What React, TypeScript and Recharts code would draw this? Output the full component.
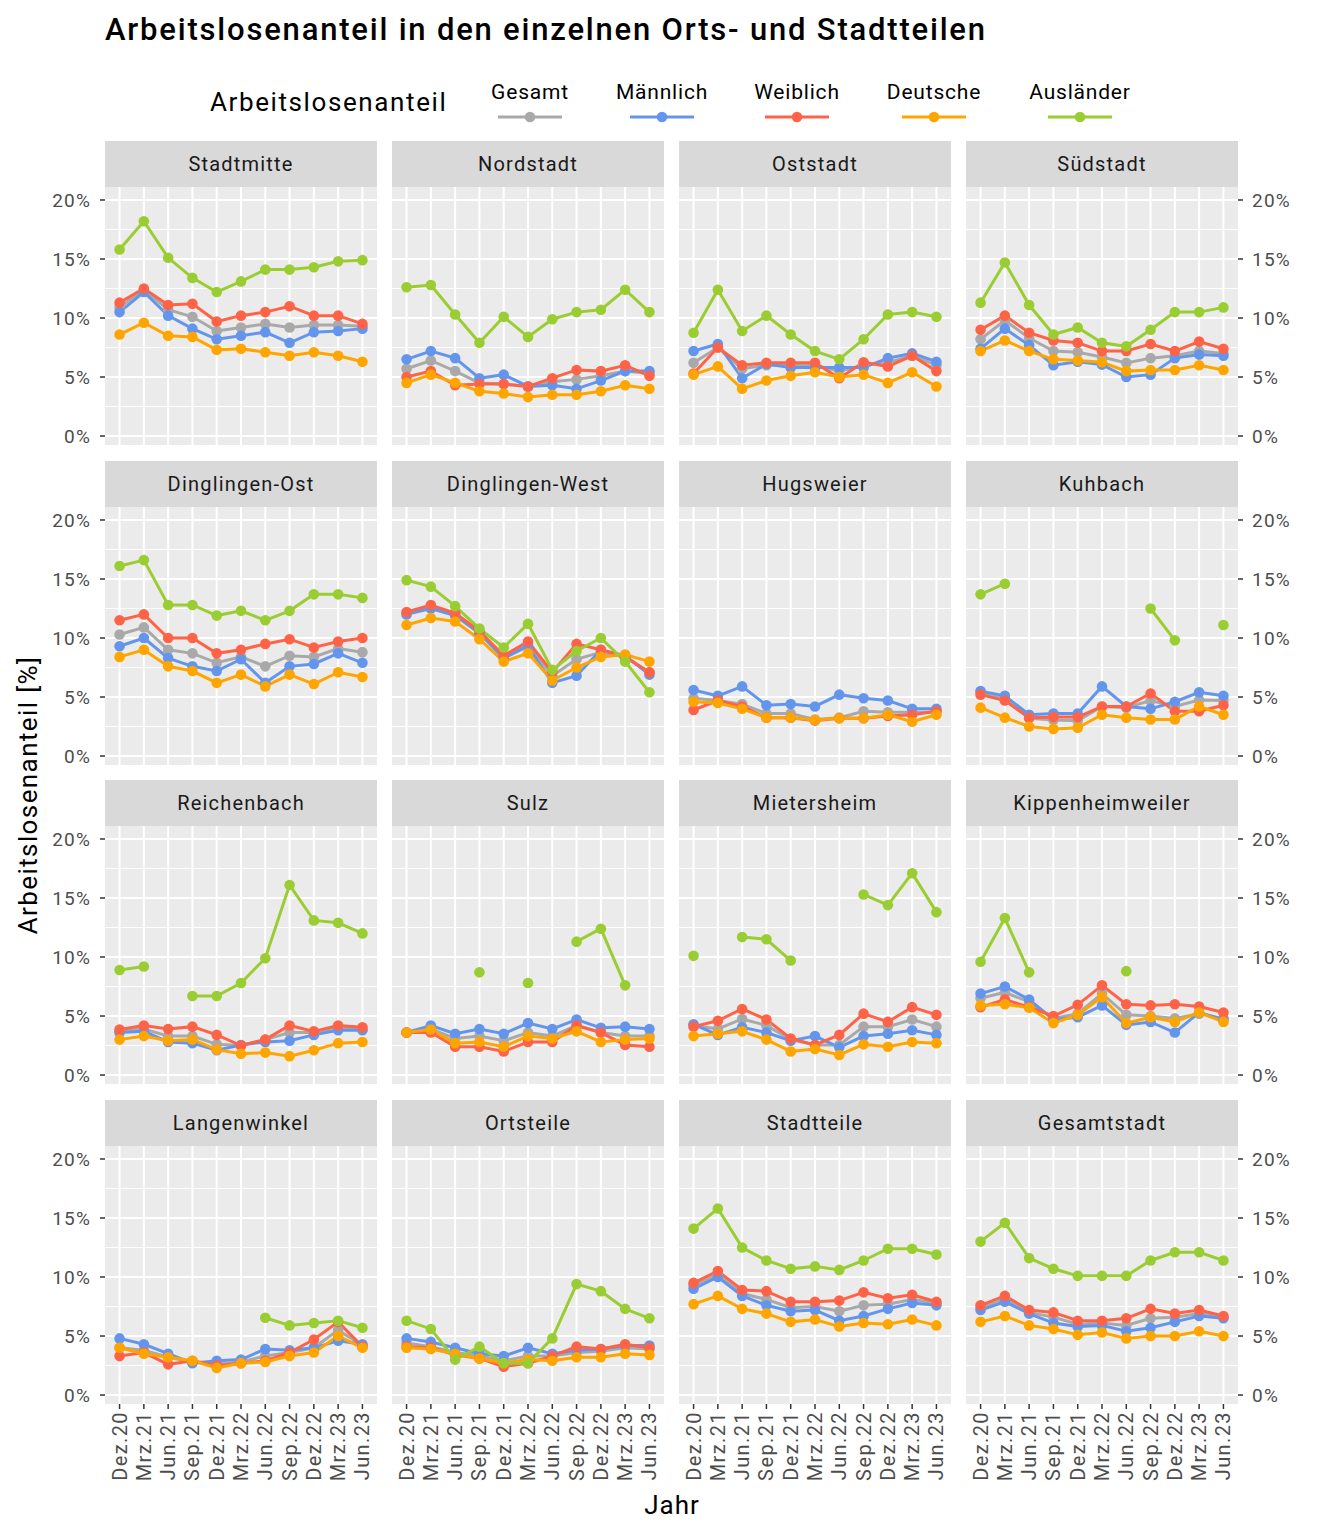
import { LineChart, Line, XAxis, YAxis, CartesianGrid } from "recharts";

const categories = ["Dez.20", "Mrz.21", "Jun.21", "Sep.21", "Dez.21", "Mrz.22", "Jun.22", "Sep.22", "Dez.22", "Mrz.23", "Jun.23"];

const panels = [
  "Stadtmitte", "Nordstadt", "Oststadt", "Südstadt",
  "Dinglingen-Ost", "Dinglingen-West", "Hugsweier", "Kuhbach",
  "Reichenbach", "Sulz", "Mietersheim", "Kippenheimweiler",
  "Langenwinkel", "Ortsteile", "Stadtteile", "Gesamtstadt",
];

type V = number | null;
const _ = null;

// one row per panel, same order as panels
const gesamt: V[][] = [
  [10.9, 12.4, 10.7, 10.1, 8.9, 9.2, 9.5, 9.2, 9.4, 9.4, 9.3],
  [5.7, 6.4, 5.5, 4.5, 4.4, 4.2, 4.6, 4.8, 5.1, 5.5, 5.3],
  [6.2, 7.5, 5.7, 6.0, 6.0, 6.0, 5.5, 6.0, 6.25, 6.8, 6.0],
  [8.2, 9.8, 8.3, 7.2, 7.1, 6.7, 6.2, 6.6, 6.8, 7.2, 7.0],
  [10.3, 10.9, 9.0, 8.7, 7.9, 8.4, 7.6, 8.5, 8.4, 9.1, 8.8],
  [12.1, 12.6, 12.0, 10.5, 8.3, 9.5, 6.8, 8.2, 8.8, 8.4, 7.1],
  [4.9, 4.7, 4.4, 3.6, 3.6, 3.1, 3.25, 3.8, 3.7, 3.7, 3.7],
  [5.4, 4.8, 3.2, 3.05, 3.0, 4.2, 4.1, 4.7, 4.2, 4.75, 4.7],
  [3.7, 3.9, 3.3, 3.3, 2.6, 2.5, 3.0, 3.6, 3.6, 4.0, 3.9],
  [3.6, 3.9, 3.1, 3.3, 2.9, 3.6, 3.3, 4.2, 3.6, 3.3, 3.3],
  [4.2, 3.9, 4.75, 4.2, 3.0, 2.55, 2.55, 4.1, 4.1, 4.7, 4.1],
  [6.5, 7.0, 6.2, 4.8, 5.2, 6.9, 5.1, 5.0, 4.8, 5.2, 4.8],
  [4.0, 3.8, 3.2, 2.8, 2.6, 2.8, 3.3, 3.6, 4.0, 5.5, 4.2],
  [4.4, 4.1, 3.6, 3.3, 2.9, 3.3, 3.3, 3.6, 3.7, 4.0, 3.9],
  [9.3, 10.2, 8.6, 8.1, 7.4, 7.5, 7.1, 7.6, 7.7, 8.1, 7.8],
  [7.4, 8.1, 7.0, 6.6, 6.0, 6.1, 5.9, 6.5, 6.6, 6.9, 6.6],
];

const maennlich: V[][] = [
  [10.5, 12.2, 10.2, 9.1, 8.2, 8.5, 8.8, 7.9, 8.8, 8.9, 9.1],
  [6.5, 7.2, 6.6, 4.9, 5.2, 4.2, 4.3, 4.0, 4.7, 5.5, 5.5],
  [7.2, 7.8, 4.9, 6.1, 5.8, 5.8, 5.8, 5.8, 6.6, 7.0, 6.3],
  [7.4, 9.1, 7.7, 6.0, 6.3, 6.05, 5.0, 5.2, 6.6, 6.9, 6.8],
  [9.3, 10.0, 8.3, 7.6, 7.2, 8.2, 6.2, 7.6, 7.8, 8.7, 7.9],
  [12.0, 12.5, 11.9, 10.4, 8.3, 9.3, 6.2, 6.8, 9.0, 8.5, 6.9],
  [5.6, 5.1, 5.9, 4.3, 4.4, 4.2, 5.2, 4.9, 4.7, 4.0, 4.0],
  [5.5, 5.1, 3.5, 3.6, 3.6, 5.9, 4.2, 4.0, 4.6, 5.4, 5.1],
  [3.6, 3.7, 2.8, 2.7, 2.1, 2.55, 2.8, 2.9, 3.4, 3.8, 3.8],
  [3.6, 4.2, 3.5, 3.9, 3.5, 4.4, 3.9, 4.7, 4.0, 4.1, 3.9],
  [4.3, 3.4, 4.05, 3.6, 2.9, 3.3, 2.35, 3.3, 3.5, 3.8, 3.4],
  [6.9, 7.5, 6.4, 4.7, 4.9, 5.9, 4.25, 4.5, 3.6, 5.3, 4.7],
  [4.8, 4.3, 3.5, 2.7, 2.9, 3.0, 3.9, 3.8, 4.0, 4.6, 4.3],
  [4.8, 4.5, 4.0, 3.5, 3.3, 4.0, 3.5, 3.8, 3.9, 4.2, 4.2],
  [9.0, 10.0, 8.4, 7.6, 7.1, 7.2, 6.3, 6.7, 7.3, 7.8, 7.6],
  [7.2, 7.9, 6.9, 6.1, 5.8, 5.9, 5.4, 5.7, 6.2, 6.7, 6.5],
];

const weiblich: V[][] = [
  [11.3, 12.5, 11.1, 11.2, 9.7, 10.2, 10.5, 11.0, 10.2, 10.2, 9.5],
  [5.0, 5.5, 4.3, 4.4, 4.4, 4.2, 4.9, 5.6, 5.5, 6.0, 5.1],
  [5.3, 7.5, 6.0, 6.2, 6.2, 6.2, 4.9, 6.25, 5.9, 6.8, 5.5],
  [9.0, 10.2, 8.75, 8.1, 7.9, 7.2, 7.2, 7.8, 7.2, 8.0, 7.4],
  [11.5, 12.0, 10.0, 10.0, 8.7, 9.0, 9.5, 9.9, 9.2, 9.7, 10.0],
  [12.2, 12.8, 12.1, 10.6, 8.5, 9.7, 7.1, 9.5, 9.0, 8.4, 7.1],
  [3.9, 4.7, 4.2, 3.25, 3.25, 3.0, 3.2, 3.2, 3.4, 3.5, 3.8],
  [5.2, 4.7, 3.25, 3.3, 3.3, 4.2, 4.2, 5.3, 3.8, 3.8, 4.3],
  [3.85, 4.2, 3.9, 4.1, 3.4, 2.5, 3.0, 4.2, 3.7, 4.2, 4.05],
  [3.6, 3.6, 2.4, 2.4, 2.0, 2.8, 2.8, 4.2, 3.6, 2.55, 2.4],
  [4.1, 4.6, 5.6, 4.7, 3.1, 2.55, 3.4, 5.2, 4.5, 5.75, 5.1],
  [5.75, 6.4, 5.75, 5.0, 5.95, 7.6, 6.0, 5.9, 6.0, 5.8, 5.3],
  [3.3, 3.6, 2.6, 2.9, 2.5, 2.7, 2.9, 3.6, 4.7, 6.2, 4.1],
  [4.1, 4.0, 3.4, 3.1, 2.4, 2.7, 3.3, 4.1, 3.9, 4.3, 4.0],
  [9.5, 10.5, 8.9, 8.8, 7.9, 7.9, 8.0, 8.7, 8.2, 8.5, 7.9],
  [7.6, 8.4, 7.2, 7.0, 6.3, 6.3, 6.5, 7.3, 6.9, 7.2, 6.7],
];

const deutsche: V[][] = [
  [8.6, 9.6, 8.5, 8.4, 7.3, 7.4, 7.1, 6.8, 7.1, 6.8, 6.3],
  [4.5, 5.2, 4.5, 3.8, 3.6, 3.3, 3.5, 3.5, 3.8, 4.3, 4.0],
  [5.2, 5.9, 4.0, 4.7, 5.1, 5.4, 5.0, 5.2, 4.5, 5.4, 4.2],
  [7.2, 8.1, 7.2, 6.5, 6.4, 6.25, 5.5, 5.6, 5.6, 6.0, 5.6],
  [8.4, 9.0, 7.6, 7.2, 6.2, 6.9, 5.9, 6.9, 6.1, 7.1, 6.7],
  [11.1, 11.7, 11.4, 9.9, 8.0, 8.7, 6.4, 7.5, 8.4, 8.6, 8.0],
  [4.6, 4.5, 4.0, 3.25, 3.25, 3.05, 3.2, 3.2, 3.5, 2.9, 3.5],
  [4.1, 3.25, 2.5, 2.3, 2.4, 3.5, 3.25, 3.1, 3.1, 4.2, 3.5],
  [3.0, 3.3, 2.9, 3.0, 2.15, 1.8, 1.9, 1.6, 2.1, 2.7, 2.8],
  [3.6, 3.85, 2.7, 2.8, 2.4, 3.3, 3.1, 3.7, 2.8, 3.0, 3.1],
  [3.3, 3.5, 3.7, 3.0, 2.0, 2.2, 1.7, 2.6, 2.4, 2.8, 2.7],
  [5.9, 6.0, 5.7, 4.4, 5.1, 6.6, 4.4, 4.9, 4.5, 5.3, 4.5],
  [4.0, 3.5, 3.2, 2.9, 2.3, 2.7, 2.8, 3.3, 3.6, 5.0, 4.0],
  [4.0, 3.9, 3.5, 3.1, 2.7, 3.0, 2.9, 3.2, 3.2, 3.5, 3.4],
  [7.7, 8.4, 7.3, 6.9, 6.2, 6.4, 5.8, 6.1, 6.0, 6.4, 5.9],
  [6.2, 6.7, 5.9, 5.6, 5.1, 5.3, 4.8, 5.0, 5.0, 5.4, 5.0],
];

const auslaender: V[][] = [
  [15.8, 18.2, 15.1, 13.4, 12.2, 13.1, 14.1, 14.1, 14.3, 14.8, 14.9],
  [12.6, 12.8, 10.3, 7.9, 10.1, 8.4, 9.9, 10.5, 10.7, 12.4, 10.5],
  [8.75, 12.4, 8.9, 10.2, 8.6, 7.2, 6.5, 8.2, 10.3, 10.5, 10.1],
  [11.3, 14.7, 11.1, 8.6, 9.2, 7.9, 7.6, 9.0, 10.5, 10.5, 10.9],
  [16.1, 16.6, 12.8, 12.8, 11.9, 12.3, 11.5, 12.3, 13.7, 13.7, 13.4],
  [14.9, 14.35, 12.7, 10.8, 9.2, 11.2, 7.3, 8.9, 10.0, 8.0, 5.4],
  [_, _, _, _, _, _, _, _, _, _, _],
  [13.7, 14.6, _, _, _, _, _, 12.5, 9.8, _, 11.1],
  [8.9, 9.2, _, 6.7, 6.7, 7.8, 9.9, 16.1, 13.1, 12.9, 12.0],
  [_, _, _, 8.7, _, 7.8, _, 11.3, 12.4, 7.6, _],
  [10.1, _, 11.7, 11.5, 9.7, _, _, 15.3, 14.4, 17.1, 13.8],
  [9.6, 13.3, 8.7, _, _, _, 8.8, _, _, _, _],
  [_, _, _, _, _, _, 6.55, 5.9, 6.1, 6.3, 5.7],
  [6.3, 5.6, 3.0, 4.1, 2.7, 2.7, 4.8, 9.4, 8.8, 7.3, 6.5],
  [14.1, 15.8, 12.5, 11.4, 10.7, 10.9, 10.6, 11.4, 12.4, 12.4, 11.9],
  [13.0, 14.6, 11.6, 10.7, 10.1, 10.1, 10.1, 11.4, 12.1, 12.1, 11.4],
];

const series = [
  { key: "gesamt", name: "Gesamt", color: "#A9A9A9", values: gesamt },
  { key: "maennlich", name: "Männlich", color: "#6495ED", values: maennlich },
  { key: "weiblich", name: "Weiblich", color: "#FF6347", values: weiblich },
  { key: "deutsche", name: "Deutsche", color: "#FFA500", values: deutsche },
  { key: "auslaender", name: "Ausländer", color: "#9ACD32", values: auslaender },
];

const yTicks = [0, 5, 10, 15, 20];
const yMinor = [2.5, 7.5, 12.5, 17.5];
const xTicks = categories.map((_c, i) => i);

const FONT = "Roboto, 'DejaVu Sans', sans-serif";
const colLeft = [105, 392, 679, 966];
const rowTop = [141, 461, 780, 1100];
const PW = 272;
const PH = 258;
const STRIP = 46;
const AXW = 110;
const AXH = 100;
const PAD = 12; // room below the plot so the 0% label is not clipped
const LW = 3;
const DOT_R = 5.3;

const RotTick = (props: any) => {
  const { x, y, payload } = props;
  return (
    <text
      x={x}
      y={y}
      transform={`rotate(-90 ${x} ${y})`}
      textAnchor="end"
      dominantBaseline="central"
      fontSize={20}
      letterSpacing={1.4}
      fill="#4D4D4D"
      fontFamily={FONT}
    >
      {categories[payload.value]}
    </text>
  );
};

const Panel = ({ idx }: { idx: number }) => {
  const col = idx % 4;
  const row = Math.floor(idx / 4);
  const leftAxis = col === 0;
  const rightAxis = col === 3;
  const bottomAxis = row === 3;
  const data = categories.map((c, i) => {
    const d: any = { i, label: c };
    series.forEach((s) => (d[s.key] = s.values[idx][i]));
    return d;
  });
  const w = PW + (leftAxis || rightAxis ? AXW : 0);
  const h = PH + (bottomAxis ? AXH : PAD);
  const chartLeft = colLeft[col] - (leftAxis ? AXW : 0);
  const top = rowTop[row];
  return (
    <>
      <div
        style={{
          position: "absolute",
          left: colLeft[col],
          top,
          width: PW,
          height: STRIP,
          background: "#D9D9D9",
          display: "flex",
          alignItems: "center",
          justifyContent: "center",
          fontSize: 20,
          letterSpacing: 1.2,
          color: "#1A1A1A",
          fontFamily: FONT,
        }}
      >
        {panels[idx]}
      </div>
      <div style={{ position: "absolute", left: chartLeft, top: top + STRIP }}>
        <LineChart
          width={w}
          height={h}
          data={data}
          margin={{ top: 0, right: 0, bottom: bottomAxis ? 0 : PAD, left: 0 }}
        >
          <CartesianGrid
            fill="#EBEBEB"
            stroke="#FFFFFF"
            strokeWidth={1}
            vertical={false}
            horizontalValues={yMinor}
          />
          <CartesianGrid
            stroke="#FFFFFF"
            strokeWidth={2}
            horizontalValues={yTicks}
            verticalValues={xTicks}
          />
          <XAxis
            dataKey="i"
            type="number"
            domain={[-0.6, 10.6]}
            ticks={xTicks}
            interval={0}
            hide={!bottomAxis}
            height={bottomAxis ? AXH : 0}
            axisLine={false}
            tickLine={{ stroke: "#333333", strokeWidth: 1.5 }}
            tickSize={5}
            tick={<RotTick />}
            allowDataOverflow
          />
          <YAxis
            type="number"
            domain={[-0.76, 21.1]}
            ticks={yTicks}
            interval={0}
            hide={!(leftAxis || rightAxis)}
            orientation={rightAxis ? "right" : "left"}
            width={leftAxis || rightAxis ? AXW : 0}
            axisLine={false}
            tickLine={{ stroke: "#333333", strokeWidth: 1.5 }}
            tickSize={5}
            tickMargin={9}
            tickFormatter={(v: number) => `${v}%`}
            tick={{ fontSize: 19, fill: "#4D4D4D", fontFamily: FONT, letterSpacing: 1.2 }}
            allowDataOverflow
          />
          {series.map((s) => (
            <Line
              key={s.key}
              dataKey={s.key}
              name={s.name}
              stroke={s.color}
              strokeWidth={LW}
              dot={{ r: DOT_R, fill: s.color, stroke: "none" }}
              activeDot={false}
              isAnimationActive={false}
              connectNulls={false}
            />
          ))}
        </LineChart>
      </div>
    </>
  );
};

const LegendKey = ({ color }: { color: string }) => (
  <svg width={64} height={12} style={{ display: "block" }}>
    <line x1={0} y1={6} x2={64} y2={6} stroke={color} strokeWidth={LW} />
    <circle cx={32} cy={6} r={DOT_R} fill={color} />
  </svg>
);

const legendCenters = [530, 662, 797, 934, 1080];

export default function App() {
  return (
    <div
      style={{
        position: "absolute",
        left: 0,
        top: 0,
        width: 1344,
        height: 1536,
        background: "#FFFFFF",
        fontFamily: FONT,
      }}
    >
      <div
        style={{
          position: "absolute",
          left: 105,
          top: 11,
          fontSize: 31,
          fontWeight: 500,
          letterSpacing: 1.8,
          color: "#000",
          whiteSpace: "nowrap",
        }}
      >
        Arbeitslosenanteil in den einzelnen Orts- und Stadtteilen
      </div>
      <div
        style={{
          position: "absolute",
          left: 210,
          top: 87,
          fontSize: 26,
          letterSpacing: 1.6,
          color: "#000",
          whiteSpace: "nowrap",
        }}
      >
        Arbeitslosenanteil
      </div>
      {series.map((s, k) => (
        <div
          key={s.key}
          style={{
            position: "absolute",
            left: legendCenters[k] - 60,
            top: 80,
            width: 120,
            display: "flex",
            flexDirection: "column",
            alignItems: "center",
          }}
        >
          <div style={{ fontSize: 21, letterSpacing: 0.8, color: "#000", lineHeight: "24px", whiteSpace: "nowrap" }}>
            {s.name}
          </div>
          <div style={{ marginTop: 7 }}>
            <LegendKey color={s.color} />
          </div>
        </div>
      ))}
      {panels.map((_p, idx) => (
        <Panel key={idx} idx={idx} />
      ))}
      <div
        style={{
          position: "absolute",
          left: 28,
          top: 795,
          transform: "translate(-50%, -50%) rotate(-90deg)",
          fontSize: 26,
          letterSpacing: 1.4,
          color: "#000",
          whiteSpace: "nowrap",
        }}
      >
        Arbeitslosenanteil [%]
      </div>
      <div
        style={{
          position: "absolute",
          left: 672,
          top: 1505,
          transform: "translate(-50%, -50%)",
          fontSize: 26,
          letterSpacing: 1,
          color: "#000",
        }}
      >
        Jahr
      </div>
    </div>
  );
}
